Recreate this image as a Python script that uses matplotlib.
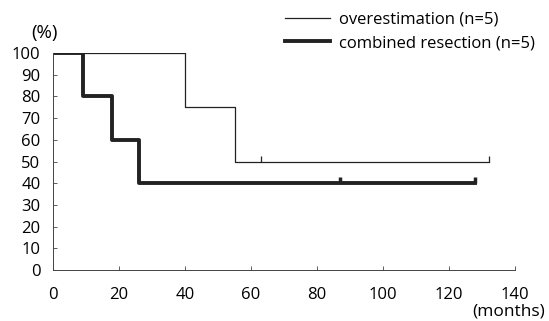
import matplotlib
matplotlib.use("Agg")
import matplotlib.pyplot as plt

# Kaplan-Meier step data (months, survival %)
over_t = [0, 40, 55, 132]
over_s = [100, 75, 50, 50]
over_cens_t = [10, 63, 132]
over_cens_s = [100, 50, 50]

comb_t = [0, 9, 18, 26, 128]
comb_s = [100, 80, 60, 40, 40]
comb_cens_t = [87, 128]
comb_cens_s = [40, 40]

xticks = [0, 20, 40, 60, 80, 100, 120, 140]
yticks = [0, 10, 20, 30, 40, 50, 60, 70, 80, 90, 100]

plt.rcParams['font.family'] = ['Open Sans', 'DejaVu Sans']
plt.rcParams['font.weight'] = 'medium'
FS_TICK = 12
FS_LEG = 12

fig = plt.figure(figsize=(5.49, 3.21), dpi=100)
ax = fig.add_axes([53/549, 1-270/321, (515-53)/549, (270-53)/321])

ax.step(over_t, over_s, where='post', color='#222222', lw=0.9, label='overestimation (n=5)')
ax.step(comb_t, comb_s, where='post', color='#222222', lw=2.8, label='combined resection (n=5)')
ax.plot(over_cens_t, over_cens_s, ls='none', marker=2, ms=4, mew=0.9, color='#222222')
ax.plot(comb_cens_t, comb_cens_s, ls='none', marker=2, ms=4, mew=2.5, color='#222222')

ax.set_xlim(0, 140)
ax.set_ylim(0, 100)
ax.set_xticks(xticks)
ax.set_yticks(yticks)
ax.spines['top'].set_visible(False)
ax.spines['right'].set_visible(False)
for s in ['left', 'bottom']:
    ax.spines[s].set_linewidth(0.7)
    ax.spines[s].set_color('#444444')
ax.tick_params(direction='in', length=3, width=0.6, color='#444444', labelsize=FS_TICK, pad=9)
ax.tick_params(axis='x', pad=12)

fig.text(31/549, 1-33/321, '(%)', fontsize=13.5, va='center', ha='left')
fig.text(545/549, 1-312/321, '(months)', fontsize=12.5, va='center', ha='right')

leg = ax.legend(loc='upper left', bbox_to_anchor=(273/549, 1-0/321), bbox_transform=fig.transFigure,
                frameon=False, fontsize=FS_LEG, handlelength=2.7, handletextpad=0.54,
                labelspacing=0.45, borderpad=0.2)

fig.savefig('out.png', dpi=100)
